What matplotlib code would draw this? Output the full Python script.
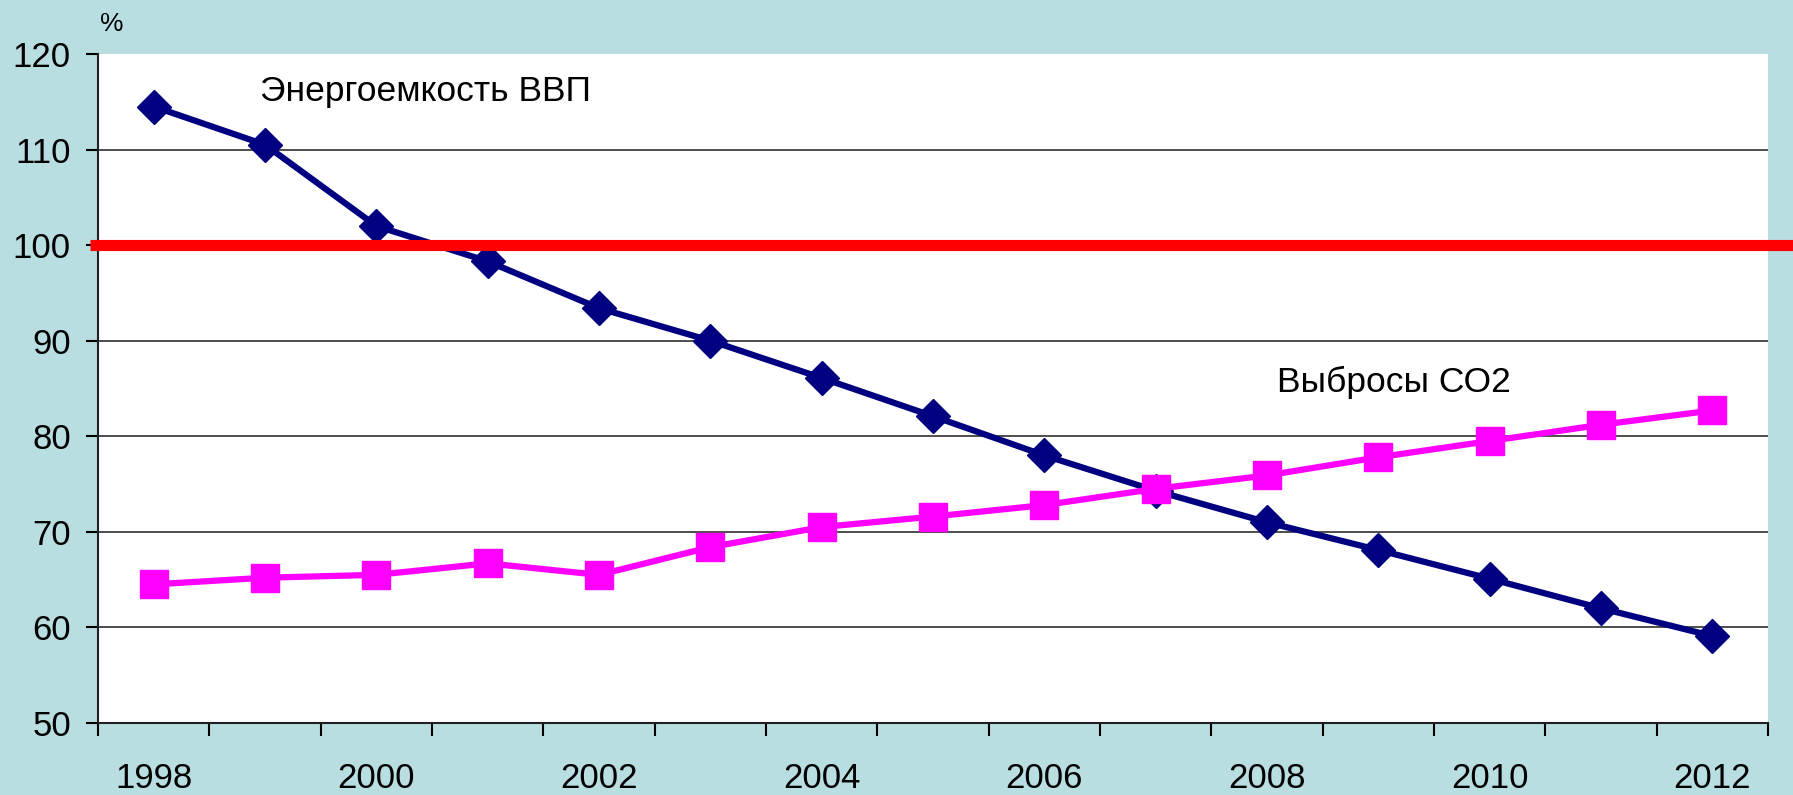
import numpy as np
import matplotlib
matplotlib.use("Agg")
import matplotlib.pyplot as plt

plt.rcParams['font.family'] = ['Liberation Sans', 'DejaVu Sans']

years = list(range(1998, 2013))
energy_intensity = [114.5, 110.5, 102.0, 98.3, 93.4, 90.0, 86.1, 82.1, 78.0, 74.3, 71.0, 68.1, 65.1, 62.0, 59.1]
co2_emissions = [64.5, 65.2, 65.5, 66.7, 65.5, 68.4, 70.5, 71.6, 72.8, 74.5, 75.9, 77.8, 79.5, 81.2, 82.7]
baseline = 100
y_ticks = [50, 60, 70, 80, 90, 100, 110, 120]
label_energy = "Энергоемкость ВВП"
label_co2 = "Выбросы СО2"

bg = '#B9DEE2'

fig = plt.figure(figsize=(17.93, 7.95), dpi=100, facecolor=bg)
ax = fig.add_axes([0.0547, 0.0906, 0.9313, 0.8415])
ax.set_facecolor('white')

x = np.arange(len(years))

ax.plot(x, energy_intensity, color='#000080', lw=4.5, marker='D', ms=17,
        markeredgecolor='#000080', zorder=3)
ax.plot(x, co2_emissions, color='#FF00FF', lw=4.5, marker='s', ms=20,
        markeredgecolor='#FF00FF', zorder=4)

# red 100% line running past the plot to the figure edge
ax.plot([-0.005, 1.02], [baseline, baseline], color='#FF0000', lw=8,
        transform=ax.get_yaxis_transform(), clip_on=False, zorder=5,
        solid_capstyle='butt')

ax.set_xlim(-0.5, len(years) - 0.5)
ax.set_ylim(y_ticks[0], y_ticks[-1])
ax.set_yticks(y_ticks)
ax.set_yticklabels([str(v) for v in y_ticks])

# tick marks at category boundaries, labels every second year
ax.set_xticks(np.arange(-0.5, len(years), 1))
ax.set_xticklabels([])
ax.set_xticks(x[::2], minor=True)
ax.set_xticklabels([str(y) for y in years[::2]], minor=True)
ax.tick_params(axis='x', which='major', direction='out', length=9, width=1.5, color='black')
ax.tick_params(axis='x', which='minor', length=0, pad=28, labelsize=25)
ax.tick_params(axis='y', direction='out', length=8.5, width=1.5, pad=11, labelsize=25)

ax.grid(axis='y', color='#404040', lw=1.3)
ax.set_axisbelow(True)
ax.get_ygridlines()[-1].set_visible(False)
ax.get_ygridlines()[0].set_visible(False)

for s in ['top', 'right']:
    ax.spines[s].set_visible(False)
for s in ['left', 'bottom']:
    ax.spines[s].set_color('#202020')
    ax.spines[s].set_linewidth(1.5)

ax.text(0.955, 116.1, label_energy, fontsize=25.5, ha='left', va='center')
ax.text(10.09, 85.6, label_co2, fontsize=25.5, ha='left', va='center')

fig.text(112 / 1793, 1 - 24 / 795, '%', fontsize=19, ha='center', va='center')

fig.savefig('out.png', dpi=100, facecolor=bg)
